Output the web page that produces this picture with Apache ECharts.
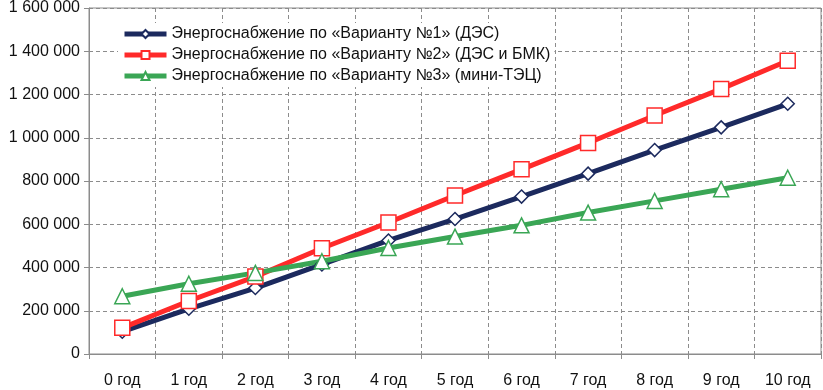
<!DOCTYPE html>
<html>
<head>
<meta charset="utf-8">
<script src="https://cdn.jsdelivr.net/npm/echarts@6/dist/echarts.min.js"></script>
<style>
  html, body { margin: 0; padding: 0; background: #fff; }
  #chart { width: 823px; height: 390px; }
</style>
</head>
<body>
<div id="chart"></div>
<script>
var years = ['0 год', '1 год', '2 год', '3 год', '4 год', '5 год', '6 год', '7 год', '8 год', '9 год', '10 год'];
var names = [
    'Энергоснабжение по «Варианту №1» (ДЭС)',
    'Энергоснабжение по «Варианту №2» (ДЭС и БМК)',
    'Энергоснабжение по «Варианту №3» (мини-ТЭЦ)'
];
var variant1 = [103000, 209000, 305000, 414000, 525000, 624000, 728000, 834000, 943000, 1048000, 1157000];
var variant2 = [121000, 245000, 358000, 489000, 608000, 733000, 854000, 976000, 1103000, 1226000, 1356000];
var variant3 = [267000, 325000, 375000, 429000, 490000, 543000, 595000, 654000, 708000, 762000, 815000];

var fontName = '"Liberation Sans", Arial, sans-serif';

function fmt(v) {
    return String(v).replace(/\B(?=(\d{3})+(?!\d))/g, ' ');
}

function makeSeries(name, data, color, symbol, size) {
    return {
        name: name,
        type: 'line',
        data: data,
        symbol: symbol,
        symbolSize: size,
        lineStyle: { color: color, width: 5 },
        itemStyle: { color: '#fff', borderColor: color, borderWidth: 1.5 },
        emphasis: { disabled: true }
    };
}

var chart = echarts.init(document.getElementById('chart'));
chart.setOption({
    animation: false,
    textStyle: { fontFamily: fontName },
    color: ['#1c2a5e', '#ff2a2a', '#3aa655'],
    grid: {
        left: 89, right: 2, top: 6, bottom: 36,
        show: true, borderColor: '#8c8c8c', borderWidth: 1
    },
    legend: {
        orient: 'vertical',
        left: 118, top: 23,
        backgroundColor: '#fff',
        padding: [3, 4, 3, 4],
        itemWidth: 42, itemHeight: 10,
        itemGap: 5,
        data: names,
        lineStyle: { width: 5 },
        textStyle: { fontSize: 16, color: '#111', fontFamily: fontName }
    },
    xAxis: {
        type: 'category',
        data: years,
        boundaryGap: true,
        axisLine: { lineStyle: { color: '#8c8c8c' } },
        axisTick: { show: true, length: 5, inside: false, lineStyle: { color: '#8c8c8c' } },
        splitLine: { show: true, lineStyle: { color: '#8c8c8c', type: [4, 3] } },
        axisLabel: { fontSize: 16, color: '#111', margin: 19 }
    },
    yAxis: {
        type: 'value',
        min: 0, max: 1600000, interval: 200000,
        axisLine: { show: true, lineStyle: { color: '#8c8c8c' } },
        axisTick: { show: true, length: 5, lineStyle: { color: '#8c8c8c' } },
        splitLine: { show: true, lineStyle: { color: '#8c8c8c', type: [4, 3] } },
        axisLabel: { fontSize: 16, color: '#111', margin: 9, formatter: fmt }
    },
    series: [
        makeSeries(names[0], variant1, '#1c2a5e', 'diamond', 13),
        makeSeries(names[1], variant2, '#ff2a2a', 'rect', 15),
        makeSeries(names[2], variant3, '#3aa655', 'triangle', 15)
    ]
});
</script>
</body>
</html>
